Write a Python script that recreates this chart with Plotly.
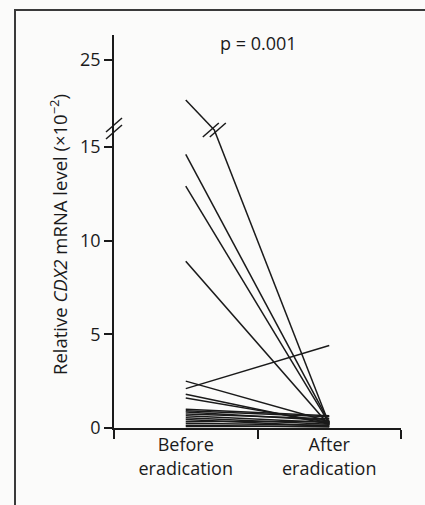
import plotly.graph_objects as go

# ---- data ----
categories = ["Before<br>eradication", "After<br>eradication"]
before = [19.8, 14.6, 12.9, 8.9, 2.1, 2.5, 1.8, 1.6,
          1.0, 0.92, 0.85, 0.75, 0.65, 0.55, 0.45, 0.35, 0.25, 0.15, 0.08]
after = [0.2, 0.3, 0.25, 0.15, 4.4, 0.35, 0.2, 0.3,
         0.65, 0.6, 0.4, 0.5, 0.3, 0.2, 0.1, 0.35, 0.15, 0.05, 0.1]
y_ticks_lower = [0, 5, 10, 15]
y_ticks_upper = [25]
p_text = "p = 0.001"
y_title = "Relative <i>CDX2</i> mRNA level (×10<sup>−2</sup>)"

# ---- styling / layout ----
W, H = 425, 505
ML, MR, MT, MB = 114, 24, 35, 77
PW, PH = W - ML - MR, H - MT - MB
BREAK_PX = 130                      # pixel y of axis break
d = (H - MB - BREAK_PX) / PH        # domain split
LOW_TOP = 15.9
UP_TOP = 28.25
INK = "#1a1a1a"
FONT = "Open Sans"

fig = go.Figure()
xs = [0, 1]
for b, a in zip(before, after):
    for yax in ("y", "y2"):
        fig.add_trace(go.Scatter(x=xs, y=[b, a], mode="lines", yaxis=yax,
                                 line=dict(color=INK, width=1.5),
                                 showlegend=False, hoverinfo="skip"))

def px_x(p):
    return (p - ML) / PW

def px_y(p):
    return (H - MB - p) / PH

shapes = []
# axis break marks "//"
for cy in (125, 132):
    shapes.append(dict(type="line", xref="paper", yref="paper",
                       x0=px_x(106), y0=px_y(cy + 7), x1=px_x(122), y1=px_y(cy - 7),
                       line=dict(color=INK, width=1.5)))
# break marks on the line crossing the break
for b, a in zip(before, after):
    if b > LOW_TOP:
        t = (b - LOW_TOP) / (b - a)
        dx = 8 / (PW / 2.0)
        for off in (-3.5, 3.5):
            shapes.append(dict(type="line", xref="x", yref="paper",
                               x0=t - dx + off / (PW / 2.0), y0=px_y(BREAK_PX + 7),
                               x1=t + dx + off / (PW / 2.0), y1=px_y(BREAK_PX - 7),
                               line=dict(color=INK, width=1.5)))
# outer frame of the figure panel
shapes.append(dict(type="rect", xref="paper", yref="paper",
                   x0=px_x(15), x1=px_x(440), y0=px_y(520), y1=px_y(10),
                   line=dict(color="#3a3a3a", width=2)))

fig.update_layout(
    width=W, height=H,
    margin=dict(l=ML, r=MR, t=MT, b=MB),
    paper_bgcolor="#fbfbfa", plot_bgcolor="#fbfbfa",
    font=dict(family=FONT, size=17, color=INK),
    xaxis=dict(range=[-0.5, 1.5], tickmode="array", tickvals=xs, ticktext=categories,
               ticks="", showline=True, linecolor=INK, linewidth=1.5,
               showgrid=False, zeroline=False, anchor="y",
               tickfont=dict(size=18),
               minor=dict(tickvals=[-0.5, 0.5, 1.5], ticks="outside", ticklen=9,
                          tickcolor=INK, tickwidth=1.5, showgrid=False)),
    yaxis=dict(domain=[0, d], range=[0, LOW_TOP], tickmode="array",
               tickvals=y_ticks_lower, ticks="outside", ticklen=8, tickwidth=1.5,
               tickcolor=INK, showline=True, linecolor=INK, linewidth=1.5,
               showgrid=False, zeroline=False, anchor="x", tickfont=dict(size=18)),
    yaxis2=dict(domain=[d, 1], range=[LOW_TOP, UP_TOP], tickmode="array",
                tickvals=y_ticks_upper, ticks="outside", ticklen=8, tickwidth=1.5,
                tickcolor=INK, showline=True, linecolor=INK, linewidth=1.5,
                showgrid=False, zeroline=False, anchor="x", tickfont=dict(size=18)),
    shapes=shapes,
    annotations=[
        dict(text=p_text, xref="paper", yref="paper", x=px_x(258), y=px_y(43),
             xanchor="center", yanchor="middle", showarrow=False,
             font=dict(size=18)),
        dict(text=y_title, xref="paper", yref="paper", x=px_x(58), y=px_y(235),
             xanchor="center", yanchor="middle", textangle=-90, showarrow=False,
             font=dict(size=18.5)),
    ],
)

fig.write_html("out.html", config={"displayModeBar": False},
               post_script="document.body.style.margin='0';document.body.style.overflow='hidden';")
